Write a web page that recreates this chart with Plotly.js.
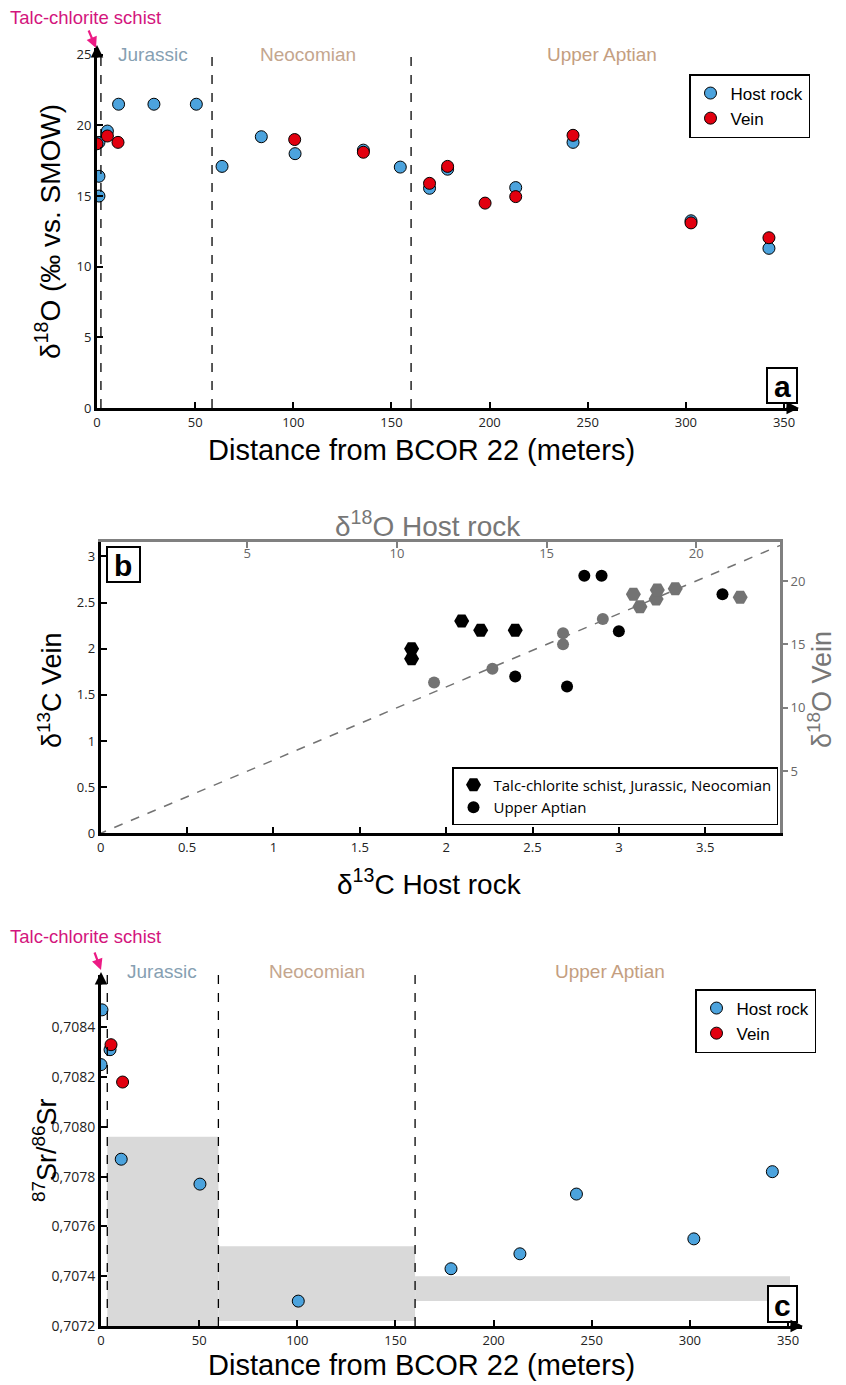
<!DOCTYPE html>
<html>
<head>
<meta charset="utf-8">
<script src="https://cdn.plot.ly/plotly-3.0.1.min.js"></script>
<style>html,body{margin:0;padding:0;background:#fff;}#chart{width:846px;height:1385px;}</style>
</head>
<body>
<div id="chart"></div>
<script>
// ---------- Panel a: d18O vs distance ----------
const hostA_x = [1, 1, 1, 5.3, 11, 29, 50.6, 63.7, 83.7, 100.9, 135.7, 154.5, 169.4, 178.6, 213.3, 242.5, 302.6, 342.3];
const hostA_y = [18.8, 16.4, 15.0, 19.6, 21.5, 21.5, 21.5, 17.1, 19.2, 18.0, 18.25, 17.05, 15.55, 16.9, 15.6, 18.8, 13.25, 11.3];
const veinA_x = [0, 5.3, 10.7, 100.7, 135.7, 169.4, 178.6, 197.7, 213.3, 242.5, 302.6, 342.3];
const veinA_y = [18.7, 19.25, 18.8, 19.0, 18.1, 15.9, 17.1, 14.5, 14.96, 19.3, 13.1, 12.05];
const boundsA = [2, 58.6, 160];
const distTicks = [0, 50, 100, 150, 200, 250, 300, 350];
const d18Ticks = [0, 5, 10, 15, 20, 25];

// ---------- Panel b: vein vs host ----------
const schist13_x = [1.8, 1.8, 2.09, 2.2, 2.4];
const schist13_y = [2.0, 1.89, 2.3, 2.2, 2.2];
const aptian13_x = [2.8, 2.9, 3.0, 2.4, 2.7, 3.6];
const aptian13_y = [2.79, 2.79, 2.19, 1.70, 1.59, 2.59];
const schist18_x = [17.9, 18.12, 18.66, 18.7, 19.3, 21.47];
const schist18_y = [18.95, 17.97, 18.58, 19.29, 19.39, 18.71];
const aptian18_x = [11.24, 13.19, 15.55, 15.55, 16.88];
const aptian18_y = [12.0, 13.08, 15.0, 15.87, 17.0];
const oneToOne = [0, 23];
const d13Ticks = [0, 0.5, 1, 1.5, 2, 2.5, 3, 3.5];
const d13VeinTicks = [0, 0.5, 1, 1.5, 2, 2.5, 3];
const d18bTicks = [5, 10, 15, 20];

// ---------- Panel c: 87Sr/86Sr vs distance ----------
const hostC_x = [0.5, 0, 4.6, 10.3, 50.4, 100.5, 178.3, 213.4, 242.2, 302, 342];
const hostC_y = [0.70847, 0.70825, 0.70831, 0.70787, 0.70777, 0.70730, 0.70743, 0.70749, 0.70773, 0.70755, 0.70782];
const veinC_x = [5.1, 11];
const veinC_y = [0.70833, 0.70818];
const boundsC = [3.2, 59.8, 160];
const bandX0 = [3.2, 59.8, 160];
const bandX1 = [59.8, 160, 351];
const bandY0 = [0.7072, 0.70722, 0.7073];
const bandY1 = [0.70796, 0.70752, 0.7074];
const srTicks = [0.7072, 0.7074, 0.7076, 0.7078, 0.7080, 0.7082, 0.7084];
const srTickText = srTicks.map(v => v.toFixed(4).replace('.', ','));

const periods = ['Jurassic', 'Neocomian', 'Upper Aptian'];
const periodColors = ['#86a0b2', '#c4a68e', '#c49e80'];

// ---------- helpers ----------
const W = 846, H = 1385;
const px = x => x / W;
const py = y => 1 - y / H;
const FONT = 'Liberation Sans, Arial, sans-serif';
const TICKFONT = 'Open Sans, Liberation Sans, sans-serif';
const BLUE = '#4ca3dd', RED = '#e2000f', GRAY = '#737373';

const traces = [
  {x: hostA_x, y: hostA_y, xaxis: 'x', yaxis: 'y', mode: 'markers', name: 'Host rock', legend: 'legend',
   marker: {color: BLUE, size: 12, line: {color: '#000', width: 1}}},
  {x: veinA_x, y: veinA_y, xaxis: 'x', yaxis: 'y', mode: 'markers', name: 'Vein', legend: 'legend',
   marker: {color: RED, size: 12, line: {color: '#000', width: 1}}},

  {x: oneToOne, y: oneToOne, xaxis: 'x3', yaxis: 'y3', mode: 'lines', showlegend: false,
   line: {color: GRAY, width: 1.5, dash: 'dash'}},
  {x: schist18_x, y: schist18_y, xaxis: 'x3', yaxis: 'y3', mode: 'markers', showlegend: false,
   marker: {color: GRAY, size: 15, symbol: 'hexagon2'}},
  {x: aptian18_x, y: aptian18_y, xaxis: 'x3', yaxis: 'y3', mode: 'markers', showlegend: false,
   marker: {color: GRAY, size: 12, symbol: 'circle'}},
  {x: schist13_x, y: schist13_y, xaxis: 'x2', yaxis: 'y2', mode: 'markers', legend: 'legend2',
   name: 'Talc-chlorite schist, Jurassic, Neocomian',
   marker: {color: '#000', size: 15, symbol: 'hexagon2'}},
  {x: aptian13_x, y: aptian13_y, xaxis: 'x2', yaxis: 'y2', mode: 'markers', legend: 'legend2',
   name: 'Upper Aptian', marker: {color: '#000', size: 12, symbol: 'circle'}},

  {x: hostC_x, y: hostC_y, xaxis: 'x4', yaxis: 'y4', mode: 'markers', name: 'Host rock', legend: 'legend3',
   marker: {color: BLUE, size: 12, line: {color: '#000', width: 1}}},
  {x: veinC_x, y: veinC_y, xaxis: 'x4', yaxis: 'y4', mode: 'markers', name: 'Vein', legend: 'legend3',
   marker: {color: RED, size: 12, line: {color: '#000', width: 1}}}
];

const baseAxis = {
  showgrid: false, zeroline: false, showline: true, linecolor: '#000', linewidth: 3,
  ticks: 'inside', ticklen: 6, tickwidth: 2, tickcolor: '#000',
  tickfont: {family: TICKFONT, size: 13, color: '#222'}, tickmode: 'array', fixedrange: true
};

const shapes = [];
const annotations = [];

// panel a dashed boundaries
boundsA.forEach(b => shapes.push({type: 'line', xref: 'x', yref: 'y', x0: b, x1: b, y0: 0, y1: 25.2,
  line: {color: '#000', width: 1.3, dash: 'dash'}}));
// panel c bands
bandX0.forEach((x0, i) => shapes.push({type: 'rect', xref: 'x4', yref: 'y4', x0: x0, x1: bandX1[i],
  y0: bandY0[i], y1: bandY1[i], fillcolor: '#d9d9d9', line: {width: 0}, layer: 'below'}));
boundsC.forEach(b => shapes.push({type: 'line', xref: 'x4', yref: 'y4', x0: b, x1: b, y0: 0.7072, y1: 0.70861,
  line: {color: '#000', width: 1.3, dash: 'dash'}}));

// panel labels boxes
function panelLabel(txt, x0, y0, x1, y1) {
  shapes.push({type: 'rect', xref: 'paper', yref: 'paper', x0: px(x0), x1: px(x1), y0: py(y1), y1: py(y0),
    fillcolor: '#fff', line: {color: '#000', width: 2}});
  annotations.push({xref: 'paper', yref: 'paper', x: px((x0 + x1) / 2), y: py((y0 + y1) / 2 + 1), text: '<b>' + txt + '</b>',
    showarrow: false, xanchor: 'center', yanchor: 'middle', font: {family: FONT, size: 30, color: '#000'}});
}
panelLabel('a', 767, 368, 797, 403);
panelLabel('b', 107, 547, 140, 582);
panelLabel('c', 768, 1286, 797, 1322);

function text(t, x, y, size, color, angle) {
  annotations.push({xref: 'paper', yref: 'paper', x: px(x), y: py(y), text: t, showarrow: false,
    xanchor: 'center', yanchor: 'middle', textangle: angle || 0, font: {family: FONT, size: size, color: color || '#000'}});
}
// period labels
[[153, 308, 602, 54], [162, 317, 610, 971]].forEach(r => {
  periods.forEach((p, i) => text(p, r[i], r[3], 19, periodColors[i]));
});
// talc-chlorite schist labels + arrows
text('Talc-chlorite schist', 85, 18, 18.5, '#d3157d');
text('Talc-chlorite schist', 85, 937, 18.5, '#d3157d');
function arrow(xh, yh, dx, dy, color, w, size) {
  annotations.push({xref: 'paper', yref: 'paper', x: px(xh), y: py(yh), ax: dx, ay: dy, text: '',
    showarrow: true, arrowhead: 2, arrowsize: size || 1, arrowwidth: w, arrowcolor: color, standoff: 0});
}
arrow(96, 48, -8, -19, '#ec1a84', 2.2, 1);
arrow(101, 970, -7, -19, '#ec1a84', 2.2, 1);
// axis arrowheads
arrow(97, 45, 0, 14, '#000', 2.5, 1);
arrow(799, 408, -14, 0, '#000', 2.5, 1);
arrow(101, 972, 0, 14, '#000', 2.5, 1);
arrow(803, 1326, -14, 0, '#000', 2.5, 1);

// axis titles
text('Distance from BCOR 22 (meters)', 421, 450, 29);
text('δ<sup>18</sup>O (‰ vs. SMOW)', 48, 232, 28, '#000', -90);
text('δ<sup>13</sup>C Vein', 50, 690, 27, '#000', -90);
text('δ<sup>13</sup>C Host rock', 430, 882, 28);
text('δ<sup>18</sup>O Host rock', 428, 524, 28, '#777');
text('δ<sup>18</sup>O Vein', 820, 690, 27, '#777', -90);
text('<sup>87</sup>Sr/<sup>86</sup>Sr', 45, 1150, 27, '#000', -90);
text('Distance from BCOR 22 (meters)', 421, 1365, 29);

const legendBase = {xanchor: 'left', yanchor: 'top', bgcolor: '#fff', bordercolor: '#000', borderwidth: 1.5,
  itemwidth: 30, tracegroupgap: 0, font: {family: FONT, size: 17, color: '#000'}};

const layout = {
  width: W, height: H, margin: {l: 0, r: 0, t: 0, b: 0},
  paper_bgcolor: '#fff', plot_bgcolor: 'rgba(0,0,0,0)', showlegend: true,
  xaxis: Object.assign({}, baseAxis, {domain: [px(97), px(797.8)], range: [0, 357], anchor: 'y', tickvals: distTicks}),
  yaxis: Object.assign({}, baseAxis, {domain: [py(408), py(47.7)], range: [0, 25.5], anchor: 'x', tickvals: d18Ticks}),
  xaxis2: Object.assign({}, baseAxis, {domain: [px(100.7), px(780)], range: [0, 3.933], anchor: 'y2', tickvals: d13Ticks}),
  yaxis2: Object.assign({}, baseAxis, {domain: [py(833.3), py(542.3)], range: [0, 3.153], anchor: 'x2', tickvals: d13VeinTicks}),
  xaxis3: Object.assign({}, baseAxis, {overlaying: 'x2', side: 'top', anchor: 'y2', range: [0.1, 22.8],
    tickvals: d18bTicks, linecolor: '#808080', tickcolor: '#808080', ticklabelposition: 'inside',
    tickfont: {family: TICKFONT, size: 13, color: '#666'}}),
  yaxis3: Object.assign({}, baseAxis, {overlaying: 'y2', side: 'right', anchor: 'x2', range: [0.1, 23.05],
    tickvals: d18bTicks, linecolor: '#808080', tickcolor: '#808080', ticks: 'outside', ticklen: 5,
    tickfont: {family: TICKFONT, size: 13, color: '#666'}}),
  xaxis4: Object.assign({}, baseAxis, {domain: [px(101), px(801.8)], range: [0, 357], anchor: 'y4', tickvals: distTicks}),
  yaxis4: Object.assign({}, baseAxis, {domain: [py(1326), py(975)], range: [0.7072, 0.70861], anchor: 'x4',
    tickvals: srTicks, ticktext: srTickText, tickfont: {family: TICKFONT, size: 14, color: '#222'}}),
  legend: Object.assign({}, legendBase, {x: px(689), y: py(74)}),
  legend2: Object.assign({}, legendBase, {x: px(452), y: py(767), font: {family: TICKFONT, size: 15, color: '#000'}}),
  legend3: Object.assign({}, legendBase, {x: px(695), y: py(989)}),
  shapes: shapes,
  annotations: annotations
};

Plotly.newPlot('chart', traces, layout, {staticPlot: true, displayModeBar: false});
</script>
</body>
</html>
